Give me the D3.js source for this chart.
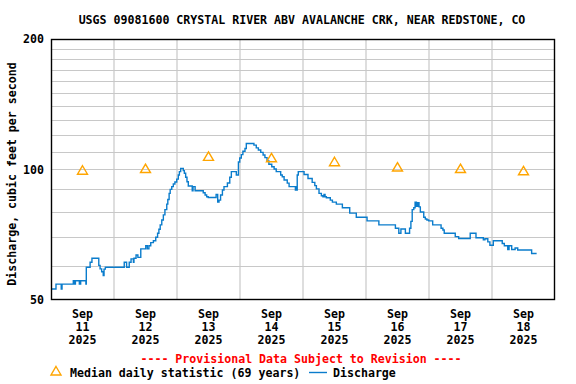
<!DOCTYPE html>
<html>
<head>
<meta charset="utf-8">
<script src="https://d3js.org/d3.v7.min.js"></script>
<style>
  body { margin: 0; background: #fff; }
  text { font-family: "DejaVu Sans Mono", monospace; font-weight: bold; font-size: 11.6px; }
</style>
</head>
<body>
<svg id="chart" width="576" height="384"></svg>
<script>
// Data (hours after 2025-09-11 00:00, cfs)
const startTime = new Date(2025, 8, 11, 0, 0);
const endTime = new Date(2025, 8, 19, 0, 0);

const hours = [
  0, 1.9, 3.9, 4.2, 8.5, 9.0, 9.3, 10.8, 11.3, 13.3,
  13.45, 14.9, 15.6, 18.2, 18.7, 19.3, 19.9, 20.2, 20.7, 27.9,
  28.8, 29.8, 30.5, 31.4, 31.6, 32.4, 33.1, 34.2, 36.1, 36.7,
  37.3, 38.0, 39.0, 39.9, 40.6, 41.1, 41.6, 42.2, 42.8, 43.4,
  44.1, 44.5, 45.0, 45.4, 46.0, 46.6, 47.2, 47.9, 48.5, 48.9,
  49.4, 50.4, 50.8, 51.3, 51.8, 52.3, 53.8, 54.1, 54.9, 58.0,
  58.7, 59.3, 59.9, 62.9, 63.5, 64.0, 64.6, 65.3, 65.9, 67.2,
  68.1, 68.7, 70.6, 71.4, 71.9, 72.5, 73.1, 73.9, 74.4, 77.3,
  78.2, 79.0, 79.9, 80.8, 81.5, 82.3, 83.0, 84.1, 85.0, 85.8,
  87.5, 88.1, 88.8, 90.0, 90.7, 93.1, 93.3, 93.6, 93.8, 94.2,
  96.4, 97.9, 99.5, 100.5, 101.1, 102.1, 103.0, 103.6, 104.0, 104.4,
  104.9, 106.4, 107.2, 108.7, 111.0, 113.8, 116.3, 120.4, 124.9, 131.2,
  132.5, 133.3, 135.0, 136.6, 137.1, 137.6, 138.2, 138.7, 139.2, 139.7,
  140.2, 140.7, 142.0, 142.6, 143.2, 143.9, 145.4, 148.6, 149.3, 149.8,
  154.0, 155.3, 159.7, 161.9, 164.7, 165.3, 166.4, 167.2, 168.5, 171.9,
  172.7, 174.0, 174.5, 175.5, 176.8, 177.8, 183.1, 185.0
];

const discharge = [
  53.0, 54.4, 53.0, 54.4, 55.4, 54.4, 55.4, 54.4, 55.4, 54.4,
  59.5, 61.1, 62.4, 60.1, 59.0, 58.1, 56.9, 58.9, 59.5, 61.1,
  59.5, 61.1, 62.2, 61.1, 62.4, 63.5, 62.7, 65.6, 66.7, 65.6,
  66.7, 67.8, 68.5, 69.8, 71.3, 72.8, 74.5, 76.5, 78.6, 80.8,
  83.2, 85.3, 88.1, 90.0, 91.3, 92.6, 93.6, 95.0, 97.1, 98.9,
  100.6, 99.4, 98.0, 96.0, 93.7, 91.6, 89.3, 91.3, 89.3, 88.4,
  87.3, 86.5, 86.2, 87.6, 84.1, 85.0, 87.3, 89.7, 91.3, 93.1,
  96.0, 98.9, 97.1, 104.1, 106.3, 108.2, 110.2, 111.8, 114.8, 113.8,
  112.2, 110.9, 109.5, 108.0, 106.5, 104.7, 102.8, 101.5, 100.3, 98.9,
  97.1, 96.2, 94.6, 93.0, 91.3, 89.7, 91.3, 89.7, 97.1, 98.9,
  97.4, 95.3, 93.4, 91.8, 90.2, 88.1, 87.0, 86.5, 87.6, 86.5,
  86.1, 85.0, 84.1, 83.2, 81.6, 79.3, 77.6, 76.1, 74.5, 73.2,
  71.3, 72.9, 71.3, 73.2, 75.9, 80.8, 81.6, 84.1, 82.2, 83.8,
  82.0, 79.8, 77.6, 76.9, 76.5, 76.1, 74.5, 73.2, 72.5, 71.3,
  70.0, 69.3, 71.3, 69.6, 68.8, 69.2, 68.1, 66.9, 68.5, 67.5,
  66.7, 65.4, 66.7, 65.4, 65.9, 65.2, 64.0, 64.0
];

const medianDays = [11, 12, 13, 14, 15, 16, 17, 18];
const medianValues = [99.6, 100.5, 107.2, 106.4, 104.2, 101.3, 100.5, 99.3];

const yTickValues = [50, 100, 200];
const yGridValues = [60, 70, 80, 90, 100, 110, 120, 130, 140, 150, 160, 170, 180, 190];

const titleText = "USGS 09081600 CRYSTAL RIVER ABV AVALANCHE CRK, NEAR REDSTONE, CO";
const yTitle = "Discharge, cubic feet per second";

const svg = d3.select("#chart");
const margin = { left: 51, right: 21, top: 39, bottom: 84 };
const W = 576, H = 384;

const x = d3.scaleTime().domain([startTime, endTime]).range([margin.left, W - margin.right]);
const y = d3.scaleLog().domain([50, 200]).range([H - margin.bottom, margin.top]);

const points = hours.map((h, i) => ({ t: new Date(startTime.getTime() + h * 3600e3), v: discharge[i] }));

// grid
const days = d3.timeDay.range(d3.timeDay.offset(startTime, 1), endTime);
svg.append("g").selectAll("line").data(days).join("line")
  .attr("x1", d => x(d)).attr("x2", d => x(d))
  .attr("y1", margin.top).attr("y2", H - margin.bottom)
  .attr("stroke", "#c8c8c8").attr("stroke-width", 1.2);

svg.append("g").selectAll("line").data(yGridValues).join("line")
  .attr("x1", margin.left).attr("x2", W - margin.right)
  .attr("y1", d => Math.round(y(d)) + 0.5).attr("y2", d => Math.round(y(d)) + 0.5)
  .attr("stroke", "#c8c8c8").attr("stroke-width", 1.2);

// discharge line
const line = d3.line().x(d => x(d.t)).y(d => y(d.v)).curve(d3.curveStepAfter);
svg.append("path").datum(points)
  .attr("d", line)
  .attr("fill", "none").attr("stroke", "#0a7ccc").attr("stroke-width", 1.4);

// median triangles
const tri = "M0,-4.5L5,4L-5,4Z";
svg.append("g").selectAll("path").data(medianDays).join("path")
  .attr("transform", (d, i) => `translate(${x(new Date(2025, 8, d, 12))},${y(medianValues[i])})`)
  .attr("d", tri)
  .attr("fill", "none").attr("stroke", "#ffa500").attr("stroke-width", 1.4);

// frame
svg.append("rect")
  .attr("x", margin.left + 0.5).attr("y", margin.top + 0.5)
  .attr("width", W - margin.left - margin.right - 1).attr("height", H - margin.top - margin.bottom - 1)
  .attr("fill", "none").attr("stroke", "#000").attr("stroke-width", 1.4);

// y tick labels
svg.append("g").selectAll("text").data(yTickValues).join("text")
  .attr("x", 44).attr("y", d => y(d) + 4)
  .attr("text-anchor", "end")
  .text(d => d);

// x tick labels
const xl = svg.append("g").selectAll("g").data(medianDays).join("g")
  .attr("transform", d => `translate(${x(new Date(2025, 8, d, 12))},0)`);
xl.append("text").attr("y", 318).attr("text-anchor", "middle").text("Sep");
xl.append("text").attr("y", 331).attr("text-anchor", "middle").text(d => d);
xl.append("text").attr("y", 344).attr("text-anchor", "middle").text("2025");

// title
svg.append("text").attr("x", 302).attr("y", 24).attr("text-anchor", "middle").text(titleText);

// y title
svg.append("text")
  .attr("transform", "translate(16,174) rotate(-90)")
  .attr("text-anchor", "middle")
  .text(yTitle);

// provisional notice
svg.append("text").attr("x", 301).attr("y", 363).attr("text-anchor", "middle")
  .attr("fill", "#ff0000")
  .text("---- Provisional Data Subject to Revision ----");

// legend
svg.append("path").attr("d", tri).attr("transform", "translate(56,371)")
  .attr("fill", "none").attr("stroke", "#ffa500").attr("stroke-width", 1.4);
svg.append("text").attr("x", 70).attr("y", 377).text("Median daily statistic (69 years)");
svg.append("line").attr("x1", 309).attr("x2", 327).attr("y1", 372.5).attr("y2", 372.5)
  .attr("stroke", "#0a7ccc").attr("stroke-width", 1.4);
svg.append("text").attr("x", 333).attr("y", 377).text("Discharge");
</script>
</body>
</html>
